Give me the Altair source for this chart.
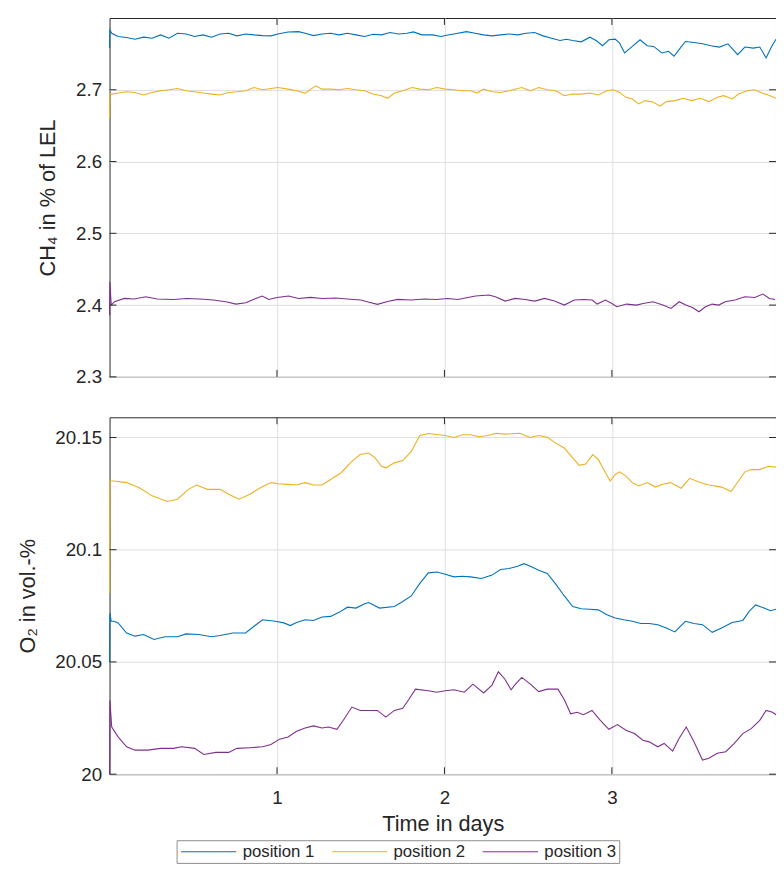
import altair as alt
import pandas as pd

# ---------------- data ----------------
series_names = ["position 1", "position 2", "position 3"]
series_colors = ["#0072BD", "#EDB120", "#7E2F8E"]

x_tick_values = [1, 2, 3]
ch4_tick_values = [2.3, 2.4, 2.5, 2.6, 2.7]
o2_tick_values = [20.0, 20.05, 20.1, 20.15]
x_domain = [0, 3.98]
ch4_domain = [2.3, 2.8]
o2_domain = [20.0, 20.159]

# CH4 in % of LEL, (time in days, value)
ch4_pos1 = [
    (0.0, 2.7582), (0.002, 2.7833), (0.013, 2.7788), (0.051, 2.7742), (0.102, 2.7728),
    (0.152, 2.7705), (0.203, 2.7733), (0.254, 2.7719), (0.305, 2.7765), (0.355, 2.7719),
    (0.406, 2.7788), (0.457, 2.7778), (0.508, 2.7742), (0.558, 2.7765), (0.609, 2.7733),
    (0.660, 2.7778), (0.711, 2.7788), (0.761, 2.7751), (0.812, 2.7778), (0.863, 2.7765),
    (0.914, 2.7755), (0.964, 2.7751), (1.005, 2.7778), (1.066, 2.7806), (1.129, 2.7810),
    (1.168, 2.7788), (1.218, 2.7755), (1.269, 2.7778), (1.320, 2.7788), (1.371, 2.7765),
    (1.421, 2.7788), (1.472, 2.7765), (1.523, 2.7742), (1.574, 2.7774), (1.624, 2.7765),
    (1.675, 2.7797), (1.726, 2.7778), (1.777, 2.7788), (1.815, 2.7806), (1.865, 2.7765),
    (1.929, 2.7765), (1.980, 2.7742), (2.005, 2.7755), (2.056, 2.7778), (2.132, 2.7810),
    (2.183, 2.7788), (2.234, 2.7765), (2.284, 2.7751), (2.335, 2.7765), (2.386, 2.7778),
    (2.437, 2.7765), (2.487, 2.7788), (2.538, 2.7797), (2.589, 2.7751), (2.640, 2.7719),
    (2.690, 2.7687), (2.728, 2.7705), (2.766, 2.7687), (2.817, 2.7668), (2.868, 2.7733),
    (2.906, 2.7687), (2.944, 2.7614), (2.982, 2.7696), (3.020, 2.7705), (3.046, 2.7650),
    (3.076, 2.7513), (3.122, 2.7604), (3.168, 2.7696), (3.211, 2.7614), (3.249, 2.7604),
    (3.299, 2.7513), (3.338, 2.7536), (3.371, 2.7467), (3.401, 2.7559), (3.439, 2.7673),
    (3.490, 2.7659), (3.541, 2.7641), (3.591, 2.7614), (3.642, 2.7595), (3.693, 2.7641),
    (3.751, 2.7490), (3.794, 2.7595), (3.845, 2.7581), (3.883, 2.7595), (3.921, 2.7444),
    (3.954, 2.7604), (3.980, 2.7705),
]
ch4_pos2 = [
    (0.0, 2.6600), (0.002, 2.6940), (0.013, 2.6940), (0.051, 2.6954), (0.102, 2.6973),
    (0.152, 2.6963), (0.203, 2.6927), (0.254, 2.6963), (0.305, 2.6986), (0.355, 2.7000),
    (0.406, 2.7018), (0.457, 2.6986), (0.508, 2.6973), (0.558, 2.6954), (0.609, 2.6940),
    (0.660, 2.6927), (0.711, 2.6963), (0.761, 2.6973), (0.812, 2.6986), (0.863, 2.7032),
    (0.914, 2.7000), (0.964, 2.7018), (1.005, 2.7032), (1.066, 2.7009), (1.117, 2.6986),
    (1.168, 2.6954), (1.231, 2.7055), (1.269, 2.7009), (1.320, 2.7009), (1.371, 2.7000),
    (1.421, 2.7018), (1.472, 2.7000), (1.523, 2.6986), (1.574, 2.6940), (1.624, 2.6918),
    (1.662, 2.6881), (1.701, 2.6954), (1.751, 2.6986), (1.807, 2.7032), (1.853, 2.7009),
    (1.904, 2.7000), (1.954, 2.7032), (2.005, 2.7009), (2.056, 2.7000), (2.107, 2.6986),
    (2.157, 2.6986), (2.195, 2.6954), (2.234, 2.7009), (2.284, 2.6973), (2.335, 2.6963),
    (2.386, 2.6986), (2.462, 2.7032), (2.513, 2.6986), (2.563, 2.7032), (2.614, 2.7000),
    (2.665, 2.6986), (2.716, 2.6918), (2.766, 2.6940), (2.817, 2.6940), (2.868, 2.6954),
    (2.919, 2.6927), (2.970, 2.6986), (3.008, 2.7000), (3.046, 2.6963), (3.084, 2.6895),
    (3.122, 2.6872), (3.160, 2.6803), (3.198, 2.6849), (3.249, 2.6826), (3.287, 2.6771),
    (3.325, 2.6835), (3.376, 2.6849), (3.426, 2.6881), (3.477, 2.6849), (3.528, 2.6881),
    (3.579, 2.6835), (3.629, 2.6895), (3.668, 2.6918), (3.718, 2.6872), (3.756, 2.6940),
    (3.807, 2.6986), (3.853, 2.7000), (3.896, 2.6954), (3.934, 2.6927), (3.980, 2.6881),
]
ch4_pos3 = [
    (0.0, 2.3860), (0.002, 2.4326), (0.010, 2.4000), (0.029, 2.4047), (0.088, 2.4093),
    (0.147, 2.4084), (0.216, 2.4116), (0.285, 2.4084), (0.382, 2.4079), (0.461, 2.4093),
    (0.539, 2.4084), (0.618, 2.4070), (0.696, 2.4047), (0.755, 2.4014), (0.814, 2.4033),
    (0.873, 2.4093), (0.912, 2.4126), (0.951, 2.4079), (1.000, 2.4107), (1.069, 2.4126),
    (1.128, 2.4093), (1.200, 2.4107), (1.270, 2.4093), (1.350, 2.4100), (1.420, 2.4086),
    (1.500, 2.4070), (1.550, 2.4040), (1.600, 2.4010), (1.660, 2.4050), (1.720, 2.4080),
    (1.800, 2.4070), (1.880, 2.4086), (1.950, 2.4079), (2.020, 2.4093), (2.080, 2.4079),
    (2.140, 2.4107), (2.186, 2.4126), (2.265, 2.4140), (2.304, 2.4116), (2.363, 2.4056),
    (2.422, 2.4093), (2.481, 2.4079), (2.540, 2.4056), (2.598, 2.4093), (2.657, 2.4056),
    (2.716, 2.4000), (2.775, 2.4070), (2.833, 2.4079), (2.882, 2.4070), (2.912, 2.4014),
    (2.961, 2.4070), (3.000, 2.4023), (3.029, 2.3977), (3.088, 2.4014), (3.147, 2.4000),
    (3.186, 2.4023), (3.245, 2.4047), (3.304, 2.4000), (3.353, 2.3953), (3.402, 2.4047),
    (3.441, 2.4000), (3.481, 2.3967), (3.520, 2.3907), (3.559, 2.3977), (3.598, 2.4014),
    (3.638, 2.4000), (3.676, 2.4047), (3.735, 2.4070), (3.794, 2.4116), (3.853, 2.4107),
    (3.902, 2.4153), (3.941, 2.4093), (3.975, 2.4079),
]

# O2 in vol.-%, (time in days, value)
o2_pos1 = [
    (0.0, 20.0500), (0.002, 20.0718), (0.010, 20.0681), (0.025, 20.0681), (0.051, 20.0674),
    (0.102, 20.0629), (0.152, 20.0615), (0.203, 20.0622), (0.266, 20.0600), (0.330, 20.0612),
    (0.406, 20.0612), (0.457, 20.0625), (0.533, 20.0622), (0.609, 20.0612), (0.660, 20.0618),
    (0.736, 20.0629), (0.812, 20.0629), (0.863, 20.0659), (0.914, 20.0688), (0.990, 20.0681),
    (1.041, 20.0674), (1.079, 20.0662), (1.117, 20.0676), (1.168, 20.0688), (1.218, 20.0685),
    (1.269, 20.0700), (1.320, 20.0703), (1.371, 20.0721), (1.421, 20.0744), (1.472, 20.0740),
    (1.523, 20.0759), (1.548, 20.0765), (1.612, 20.0740), (1.701, 20.0747), (1.751, 20.0769),
    (1.802, 20.0794), (1.853, 20.0850), (1.904, 20.0897), (1.954, 20.0901), (2.005, 20.0891),
    (2.056, 20.0879), (2.107, 20.0882), (2.157, 20.0879), (2.221, 20.0872), (2.284, 20.0887),
    (2.335, 20.0912), (2.386, 20.0916), (2.437, 20.0926), (2.475, 20.0938), (2.513, 20.0926),
    (2.563, 20.0909), (2.614, 20.0894), (2.665, 20.0847), (2.716, 20.0794), (2.766, 20.0747),
    (2.817, 20.0737), (2.868, 20.0735), (2.919, 20.0732), (2.970, 20.0710), (3.020, 20.0696),
    (3.071, 20.0688), (3.122, 20.0681), (3.173, 20.0671), (3.223, 20.0671), (3.274, 20.0666),
    (3.325, 20.0651), (3.376, 20.0634), (3.439, 20.0681), (3.490, 20.0671), (3.541, 20.0666),
    (3.599, 20.0632), (3.655, 20.0651), (3.718, 20.0676), (3.782, 20.0685), (3.820, 20.0725),
    (3.858, 20.0754), (3.909, 20.0740), (3.947, 20.0728), (3.980, 20.0735),
]
o2_pos2 = [
    (0.0, 20.0806), (0.002, 20.1306), (0.025, 20.1306), (0.102, 20.1299), (0.178, 20.1276),
    (0.254, 20.1240), (0.343, 20.1215), (0.406, 20.1225), (0.470, 20.1269), (0.520, 20.1288),
    (0.584, 20.1269), (0.660, 20.1269), (0.711, 20.1247), (0.774, 20.1225), (0.838, 20.1247),
    (0.901, 20.1276), (0.964, 20.1299), (1.005, 20.1294), (1.066, 20.1291), (1.117, 20.1288),
    (1.168, 20.1299), (1.218, 20.1288), (1.269, 20.1288), (1.320, 20.1313), (1.383, 20.1343),
    (1.447, 20.1394), (1.497, 20.1424), (1.548, 20.1431), (1.586, 20.1409), (1.624, 20.1372),
    (1.650, 20.1365), (1.701, 20.1387), (1.751, 20.1397), (1.802, 20.1438), (1.853, 20.1509),
    (1.904, 20.1518), (2.005, 20.1509), (2.056, 20.1500), (2.107, 20.1512), (2.157, 20.1512),
    (2.208, 20.1503), (2.259, 20.1509), (2.310, 20.1519), (2.360, 20.1515), (2.449, 20.1519),
    (2.513, 20.1500), (2.563, 20.1509), (2.614, 20.1501), (2.665, 20.1475), (2.716, 20.1453),
    (2.766, 20.1409), (2.805, 20.1376), (2.843, 20.1382), (2.886, 20.1424), (2.919, 20.1401),
    (2.957, 20.1350), (2.990, 20.1306), (3.020, 20.1335), (3.046, 20.1347), (3.084, 20.1328),
    (3.122, 20.1299), (3.160, 20.1284), (3.211, 20.1299), (3.261, 20.1279), (3.299, 20.1291),
    (3.350, 20.1299), (3.414, 20.1274), (3.464, 20.1318), (3.528, 20.1299), (3.579, 20.1288),
    (3.655, 20.1279), (3.711, 20.1259), (3.756, 20.1306), (3.794, 20.1347), (3.832, 20.1357),
    (3.883, 20.1357), (3.934, 20.1372), (3.980, 20.1368),
]
o2_pos3 = [
    (0.0, 20.0000), (0.002, 20.0328), (0.013, 20.0210), (0.051, 20.0166), (0.102, 20.0122),
    (0.152, 20.0107), (0.228, 20.0107), (0.305, 20.0115), (0.381, 20.0115), (0.431, 20.0122),
    (0.508, 20.0115), (0.563, 20.0088), (0.635, 20.0097), (0.711, 20.0097), (0.761, 20.0115),
    (0.838, 20.0118), (0.914, 20.0122), (0.964, 20.0132), (1.015, 20.0156), (1.066, 20.0166),
    (1.117, 20.0191), (1.168, 20.0206), (1.218, 20.0215), (1.269, 20.0206), (1.307, 20.0210),
    (1.358, 20.0200), (1.396, 20.0240), (1.447, 20.0299), (1.497, 20.0284), (1.548, 20.0284),
    (1.599, 20.0284), (1.650, 20.0254), (1.701, 20.0284), (1.751, 20.0294), (1.789, 20.0335),
    (1.827, 20.0379), (1.904, 20.0372), (1.954, 20.0365), (2.005, 20.0372), (2.056, 20.0376),
    (2.119, 20.0365), (2.170, 20.0401), (2.234, 20.0362), (2.284, 20.0397), (2.322, 20.0456),
    (2.360, 20.0424), (2.398, 20.0376), (2.424, 20.0401), (2.462, 20.0431), (2.513, 20.0401),
    (2.563, 20.0368), (2.614, 20.0379), (2.678, 20.0379), (2.716, 20.0332), (2.754, 20.0269),
    (2.792, 20.0276), (2.830, 20.0265), (2.881, 20.0284), (2.931, 20.0240), (2.982, 20.0200),
    (3.033, 20.0221), (3.084, 20.0196), (3.135, 20.0181), (3.185, 20.0151), (3.223, 20.0144),
    (3.274, 20.0122), (3.312, 20.0137), (3.363, 20.0103), (3.401, 20.0159), (3.444, 20.0210),
    (3.490, 20.0144), (3.541, 20.0063), (3.579, 20.0071), (3.629, 20.0093), (3.680, 20.0100),
    (3.731, 20.0137), (3.782, 20.0181), (3.832, 20.0203), (3.883, 20.0240), (3.921, 20.0284),
    (3.959, 20.0276), (3.980, 20.0265),
]

# ---------------- styling ----------------
FONT = "Liberation Sans"
TXT = "#262626"
GRID = "#dedede"
W = 676
H_TOP = 364
H_BOT = 362
TICK = 7


def long_frame(series):
    rows = []
    for name, pts in zip(series_names, series):
        for order, (t, v) in enumerate(pts):
            rows.append({"t": t, "v": v, "series": name, "k": order})
    return pd.DataFrame(rows)


color_enc = alt.Color(
    "series:N",
    scale=alt.Scale(domain=series_names, range=series_colors),
    legend=alt.Legend(title=None),
)


def panel(df, ydom, yticks, ytitle, height, show_x):
    xscale = alt.Scale(domain=x_domain, nice=False, zero=False)
    yscale = alt.Scale(domain=ydom, nice=False, zero=False)
    if show_x:
        xaxis = alt.Axis(values=x_tick_values, format="d", title="Time in days",
                         grid=True, ticks=False, domain=False,
                         labelPadding=15, titlePadding=6)
    else:
        xaxis = alt.Axis(values=x_tick_values, labels=False, title=None,
                         grid=True, ticks=False, domain=False)
    yaxis = alt.Axis(values=yticks, format="~g", title=ytitle, grid=True,
                     ticks=False, domain=False, labelPadding=8, titlePadding=16)

    lines = alt.Chart(df).mark_line(strokeWidth=1.1).encode(
        x=alt.X("t:Q", scale=xscale, axis=xaxis),
        y=alt.Y("v:Q", scale=yscale, axis=yaxis),
        color=color_enc,
        order="k:Q",
    )

    xt = pd.DataFrame({"t": x_tick_values})
    yt = pd.DataFrame({"v": yticks})
    xt_bottom = alt.Chart(xt).mark_rule(color=TXT, strokeWidth=1).encode(
        x=alt.X("t:Q", scale=xscale, axis=xaxis),
        y=alt.value(height - TICK), y2=alt.value(height))
    xt_top = alt.Chart(xt).mark_rule(color=TXT, strokeWidth=1).encode(
        x=alt.X("t:Q", scale=xscale, axis=xaxis),
        y=alt.value(0), y2=alt.value(TICK))
    yt_left = alt.Chart(yt).mark_rule(color=TXT, strokeWidth=1).encode(
        y=alt.Y("v:Q", scale=yscale, axis=yaxis),
        x=alt.value(0), x2=alt.value(TICK))
    yt_right = alt.Chart(yt).mark_rule(color=TXT, strokeWidth=1).encode(
        y=alt.Y("v:Q", scale=yscale, axis=yaxis),
        x=alt.value(W - TICK), x2=alt.value(W))

    return alt.layer(lines, xt_bottom, xt_top, yt_left, yt_right).properties(
        width=W, height=height)


top = panel(long_frame([ch4_pos1, ch4_pos2, ch4_pos3]), ch4_domain,
            ch4_tick_values, "CH\u2084 in % of LEL", H_TOP, False)
bottom = panel(long_frame([o2_pos1, o2_pos2, o2_pos3]), o2_domain,
               o2_tick_values, "O\u2082 in vol.-%", H_BOT, True)

chart = alt.vconcat(top, bottom, spacing=41, bounds="flush").properties(
    padding={"left": 7, "top": 3, "right": -3, "bottom": -3},
    background="white",
).configure_view(
    stroke=TXT, strokeWidth=1,
).configure_axis(
    gridColor=GRID, gridWidth=1, gridOpacity=1,
    labelFont=FONT, labelFontSize=19, labelColor=TXT,
    titleFont=FONT, titleFontSize=22, titleColor=TXT, titleFontWeight="normal",
).configure_legend(
    orient="none", legendX=68, legendY=834, direction="horizontal",
    symbolType="M-1,0H7", symbolSize=196, symbolStrokeWidth=1.1,
    labelFont=FONT, labelFontSize=17, labelColor=TXT, labelOffset=47,
    columnPadding=15, padding=3, strokeColor="#8c8c8c", fillColor="white",
)

chart.save("out.html", embed_options={"renderer": "svg", "actions": False})
